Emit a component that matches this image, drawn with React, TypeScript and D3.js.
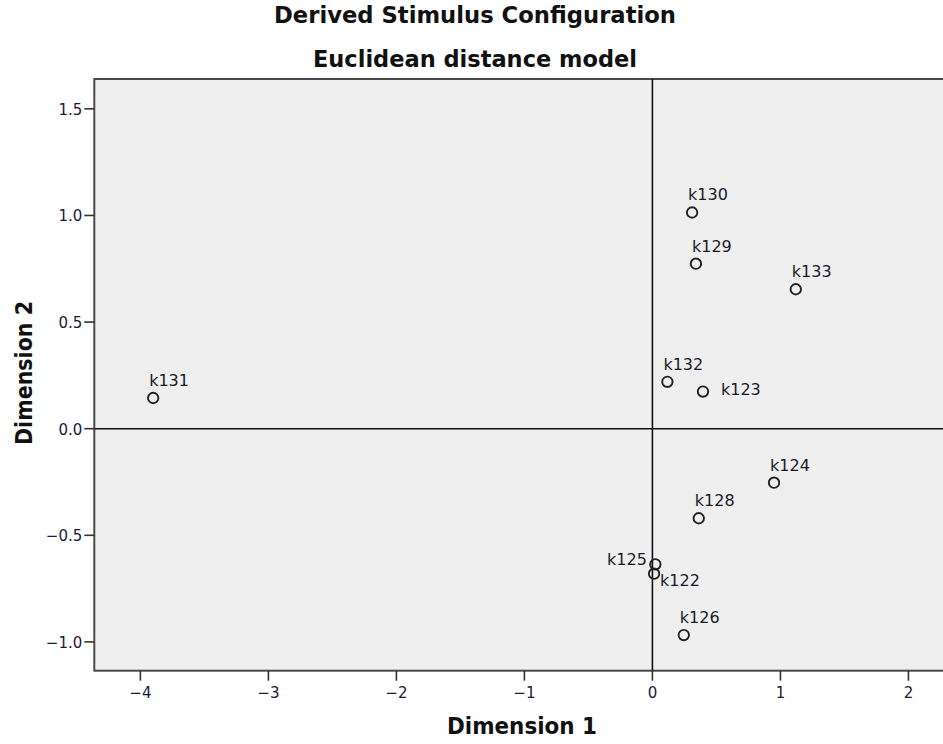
import React from "react";
import * as d3 from "d3";

const names = ["k122", "k123", "k124", "k125", "k126", "k128", "k129", "k130", "k131", "k132", "k133"];
const dim1 = [0.013, 0.395, 0.95, 0.023, 0.245, 0.362, 0.34, 0.31, -3.9, 0.117, 1.12];
const dim2 = [-0.68, 0.174, -0.253, -0.636, -0.968, -0.42, 0.774, 1.014, 0.144, 0.22, 0.654];
const labelSide = ["belowRight", "right", "above", "left", "above", "above", "above", "above", "above", "above", "above"];
const xTicks = [-4, -3, -2, -1, 0, 1, 2];
const yTicks = [-1.0, -0.5, 0.0, 0.5, 1.0, 1.5];
const title1 = "Derived Stimulus Configuration";
const title2 = "Euclidean distance model";
const xTitle = "Dimension 1";
const yTitle = "Dimension 2";

const W = 943;
const H = 744;
const left = 94.3;
const top = 79;
const bottom = 670.7;

export default function App() {
  const x = d3.scaleLinear().domain([-4.36, 2.27]).range([left, W]);
  const y = d3.scaleLinear().domain([-1.135, 1.64]).range([bottom, top]);
  const fx = d3.format("d");
  const fy = d3.format(".1f");
  const font = "'DejaVu Sans', Verdana, sans-serif";

  const labelPos = (side: string) => {
    switch (side) {
      case "right":
        return { dx: 18, dy: 3, anchor: "start" };
      case "left":
        return { dx: -8.5, dy: 1, anchor: "end" };
      case "belowRight":
        return { dx: 6, dy: 12, anchor: "start" };
      default:
        return { dx: -4, dy: -12, anchor: "start" };
    }
  };

  return (
    <svg
      width={W}
      height={H}
      style={{ position: "absolute", left: 0, top: 0, display: "block", background: "#fff" }}
      fontFamily={font}
    >
      <defs>
        <clipPath id="plotclip">
          <rect x={left} y={top} width={W - left} height={bottom - top} />
        </clipPath>
      </defs>
      <text x={475} y={22.7} textAnchor="middle" fontWeight="bold" fontSize={23} fill="#111"
        textLength={402} lengthAdjust="spacingAndGlyphs">{title1}</text>
      <text x={475} y={66.7} textAnchor="middle" fontWeight="bold" fontSize={23} fill="#111"
        textLength={324} lengthAdjust="spacingAndGlyphs">{title2}</text>

      <rect x={left} y={top} width={W - left + 5} height={bottom - top} fill="#efefef" stroke="#4a4a4a" strokeWidth={2} />

      <g clipPath="url(#plotclip)">
        <line x1={x(0)} x2={x(0)} y1={top} y2={bottom} stroke="#111" strokeWidth={1.6} />
        <line x1={left} x2={W} y1={y(0)} y2={y(0)} stroke="#111" strokeWidth={1.6} />
      </g>

      {yTicks.map((t) => (
        <g key={"y" + t}>
          <line x1={left - 10} x2={left} y1={y(t)} y2={y(t)} stroke="#333" strokeWidth={1.6} />
          <text x={left - 12} y={y(t) + 6} textAnchor="end" fontSize={15} fill="#1a1a3a">
            {fy(t)}
          </text>
        </g>
      ))}

      {xTicks.map((t) => (
        <g key={"x" + t}>
          <line x1={x(t)} x2={x(t)} y1={bottom} y2={bottom + 10} stroke="#333" strokeWidth={1.6} />
          <text x={x(t)} y={bottom + 27.5} textAnchor="middle" fontSize={15} fill="#1a1a3a">
            {fx(t)}
          </text>
        </g>
      ))}

      <text x={522} y={734.3} textAnchor="middle" fontWeight="bold" fontSize={23} fill="#111"
        textLength={150} lengthAdjust="spacingAndGlyphs">{xTitle}</text>
      <text transform={`translate(32,373) rotate(-90)`} textAnchor="middle" fontWeight="bold" fontSize={23} fill="#111"
        textLength={144} lengthAdjust="spacingAndGlyphs">{yTitle}</text>

      {names.map((n, i) => {
        const px = x(dim1[i]);
        const py = y(dim2[i]);
        const lp = labelPos(labelSide[i]);
        return (
          <g key={n}>
            <circle cx={px} cy={py} r={5.2} fill="none" stroke="#222" strokeWidth={1.9} />
            <text x={px + lp.dx} y={py + lp.dy} textAnchor={lp.anchor} fontSize={16} fill="#1a1a2a">
              {n}
            </text>
          </g>
        );
      })}
    </svg>
  );
}
